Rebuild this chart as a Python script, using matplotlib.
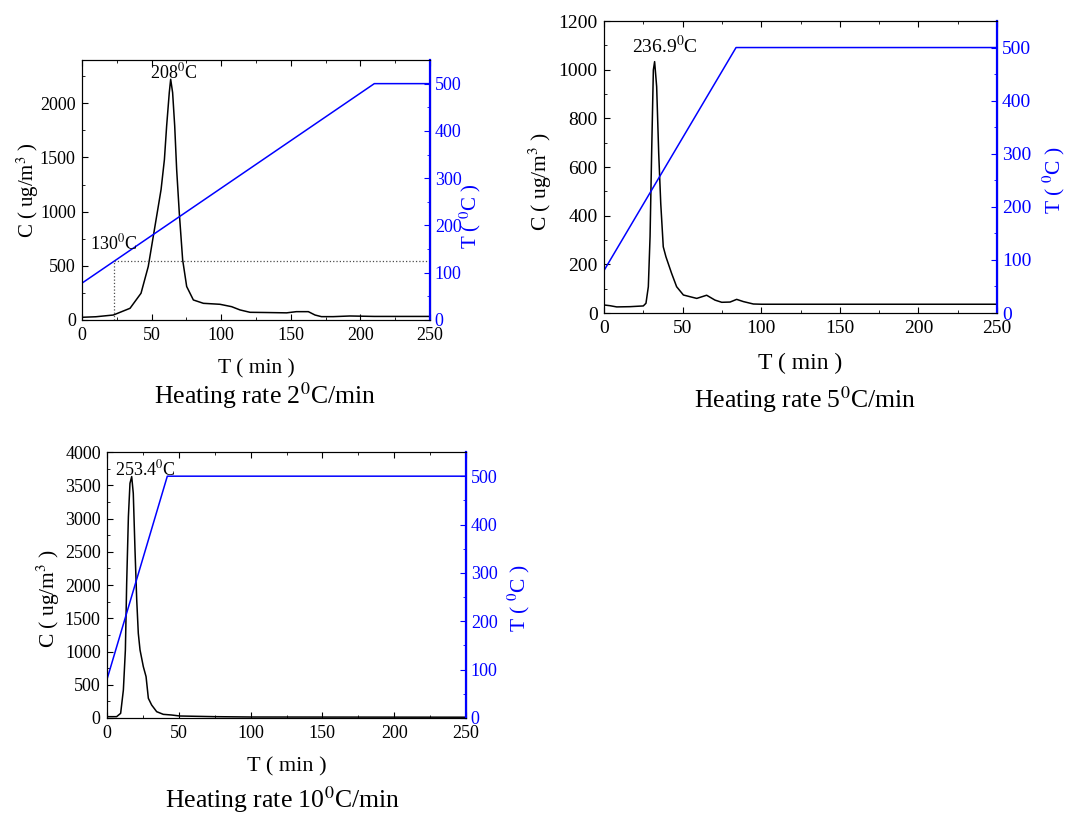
import numpy as np
from matplotlib import pyplot as plt
from matplotlib.ticker import MultipleLocator

plt.rcParams["font.family"] = ["Liberation Serif", "DejaVu Serif"]
plt.rcParams["mathtext.fontset"] = "stix"

# Heating rate 2 C/min
t_2 = [0, 10, 22.5, 34.5, 42.4, 47.6, 50.8, 54.8, 56.8, 59.2, 60.8, 62.7, 63.7, 65.1, 66.6,
       68, 69.9, 72.3, 75.2, 80, 87.2, 99.1, 107.5, 113.5, 120.7, 132.7, 147, 154, 162.6,
       167.4, 172, 180.5, 192.5, 210, 250]
c_2 = [25, 30, 46, 108, 247, 494, 741, 1049, 1204, 1481, 1790, 2099, 2222, 2099, 1790,
       1389, 987, 556, 309, 185, 154, 145, 123, 93, 71, 69, 66, 77, 77,
       46, 31, 31, 37, 33, 33]
prog_t_2 = [0, 210, 250]
prog_T_2 = [78, 500, 500]
mark_t_2 = 23

# Heating rate 5 C/min
t_5 = [0, 3.8, 8.1, 16.5, 25, 26.7, 28.2, 29.3, 30.3, 31.4, 32.2, 33.5, 34.8, 36.1, 37.7,
       39.4, 43, 46.2, 50.5, 54.7, 59, 65.3, 70.6, 74.9, 80.2, 84.4, 88.6, 95, 100.3, 250]
c_5 = [33, 30, 25, 26, 29, 40, 108, 314, 656, 999, 1033, 930, 656, 450, 272,
       231, 163, 108, 74, 67, 60, 73, 53, 44, 45, 56, 47, 37, 36, 36]
prog_t_5 = [0, 84, 250]
prog_T_5 = [80, 500, 500]

# Heating rate 10 C/min
t_10 = [0, 6.7, 9.5, 11.4, 12.8, 13.7, 14.9, 16, 17.2, 18.3, 19.5, 20.7, 21.8, 23, 25.3,
        27.2, 28.8, 31.1, 34.6, 39.2, 45, 50.8, 75, 100, 250]
c_10 = [20, 20, 70, 421, 1023, 2025, 3028, 3529, 3630, 3378, 2526, 1774, 1273, 1023, 772,
        622, 296, 195, 95, 55, 45, 30, 20, 15, 12]
prog_t_10 = [0, 42, 250]
prog_T_10 = [80, 500, 500]

panels = [
    dict(t=t_2, c=c_2, pt=prog_t_2, pT=prog_T_2, ymax=2400, ymajor=500,
         rect=[82/1069, 1-320/814, 348/1069, 260/814], fs=13, xfs=15.5, yfs=15,
         xlab_y=-0.15, ylab=(-0.118, 0.5), rlab=(1.08, 0.40),
         peak="208$^0$C", peak_xy=(66, 2284), caption="Heating rate 2$^0$C/min",
         cap_xy=(265/1069, 1-396/814)),
    dict(t=t_5, c=c_5, pt=prog_t_5, pT=prog_T_5, ymax=1200, ymajor=200,
         rect=[604/1069, 1-313/814, 393/1069, 292/814], fs=14, xfs=17, yfs=15.5,
         xlab_y=-0.137, ylab=(-0.127, 0.45), rlab=(1.112, 0.455),
         peak="236.9$^0$C", peak_xy=(38.8, 1097), caption="Heating rate 5$^0$C/min",
         cap_xy=(805/1069, 1-400/814)),
    dict(t=t_10, c=c_10, pt=prog_t_10, pT=prog_T_10, ymax=4000, ymajor=500,
         rect=[107/1069, 1-718/814, 359/1069, 266/814], fs=13, xfs=16, yfs=15.5,
         xlab_y=-0.148, ylab=(-0.125, 0.45), rlab=(1.11, 0.45),
         peak="253.4$^0$C", peak_xy=(26.5, 3740), caption="Heating rate 10$^0$C/min",
         cap_xy=(283/1069, 1-800/814)),
]

fig = plt.figure(figsize=(10.69, 8.14), dpi=100)
axes = []
for p in panels:
    ax = fig.add_axes(p["rect"])
    ax2 = ax.twinx()
    ax.plot(p["t"], p["c"], color="k", lw=1.1)
    ax2.plot(p["pt"], p["pT"], color="blue", lw=1.1)
    ax.set_xlim(0, 250)
    ax.set_ylim(0, p["ymax"])
    ax2.set_ylim(0, 550)
    ax.xaxis.set_major_locator(MultipleLocator(50))
    ax.xaxis.set_minor_locator(MultipleLocator(25))
    ax.yaxis.set_major_locator(MultipleLocator(p["ymajor"]))
    ax.yaxis.set_minor_locator(MultipleLocator(p["ymajor"]/2))
    ax2.yaxis.set_major_locator(MultipleLocator(100))
    ax2.yaxis.set_minor_locator(MultipleLocator(50))
    ax.tick_params(which="both", direction="in", top=True, right=False, labelsize=p["fs"])
    ax.tick_params(axis="x", pad=5)
    ax.tick_params(axis="y", pad=4.5)
    ax.tick_params(which="major", length=4)
    ax.tick_params(which="minor", length=2.5)
    ax2.tick_params(which="both", direction="in", colors="blue", labelsize=p["fs"], pad=3.5)
    ax2.tick_params(which="major", length=4)
    ax2.tick_params(which="minor", length=2.5)
    ax2.spines["right"].set_color("blue")
    ax2.spines["right"].set_linewidth(1.6)
    ax.set_xlabel("T ( min )", fontsize=p["xfs"])
    ax.xaxis.set_label_coords(0.5, p["xlab_y"])
    ax.set_ylabel("C ( ug/m$^3$ )", fontsize=p["yfs"])
    ax.yaxis.set_label_coords(*p["ylab"])
    ax2.set_ylabel("T ( $^0$C )", fontsize=p["yfs"], color="blue")
    ax2.yaxis.set_label_coords(*p["rlab"])
    ax.text(*p["peak_xy"], p["peak"], fontsize=p["fs"], ha="center", va="center")
    fig.text(*p["cap_xy"], p["caption"], fontsize=18.5, ha="center", va="center")
    axes.append((ax, ax2))

# 130 C marker on first panel
ax, ax2 = axes[0]
mark_T = np.interp(mark_t_2, prog_t_2, prog_T_2)
ax2.plot([mark_t_2, mark_t_2], [0, mark_T], color="0.3", lw=0.9, ls=":")
ax2.plot([mark_t_2, 250], [mark_T, mark_T], color="0.3", lw=0.9, ls=":")
ax2.text(mark_t_2, 162, "130$^0$C", fontsize=13, ha="center", va="center")

fig.savefig("out.png", dpi=100)
